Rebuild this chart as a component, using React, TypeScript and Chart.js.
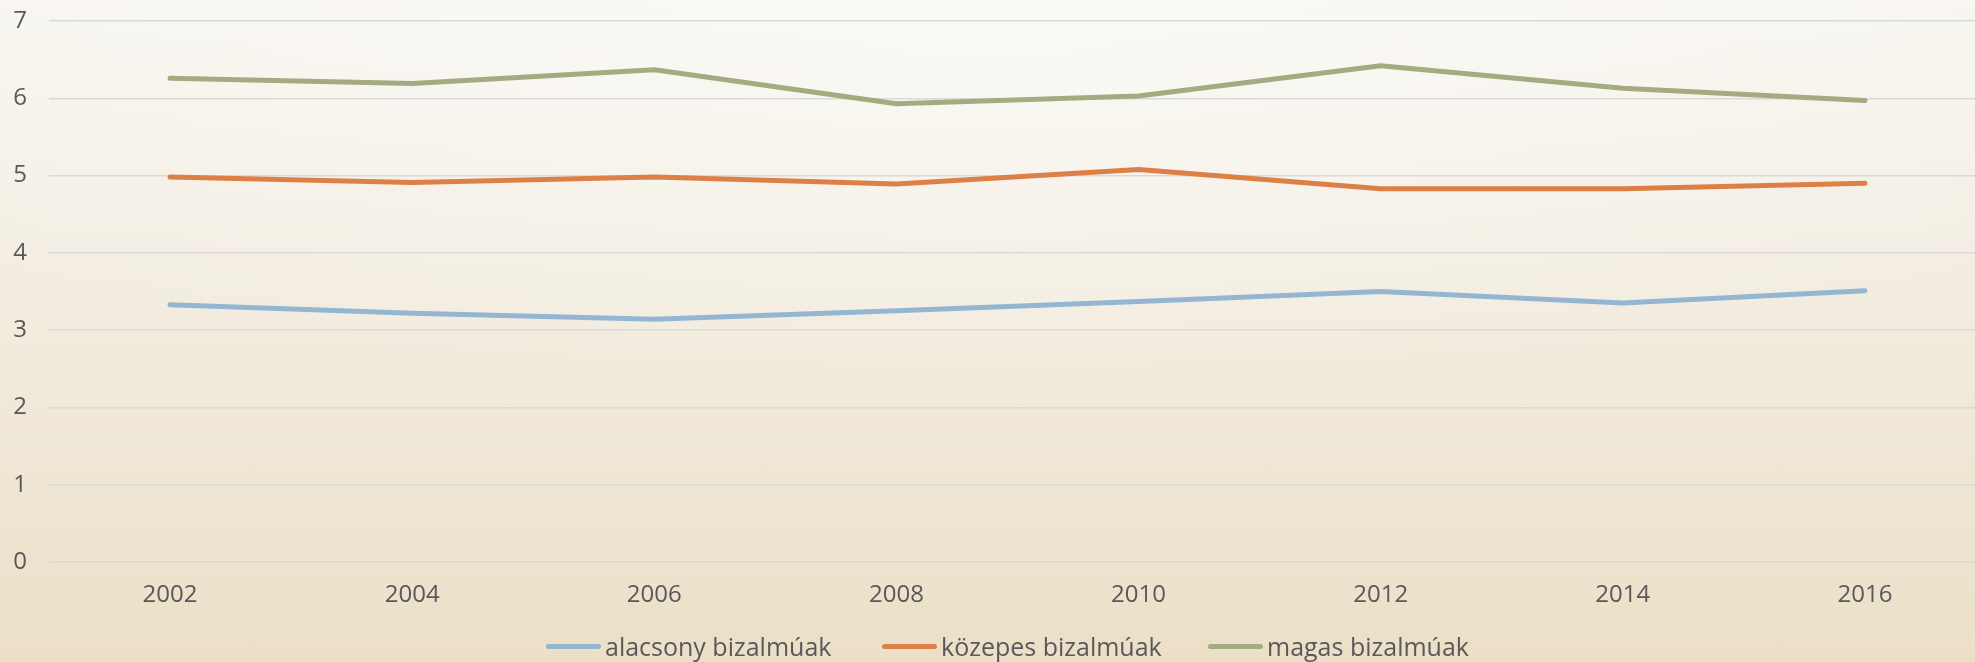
import React, { useEffect, useRef } from "react";
import { Chart, registerables } from "chart.js";

Chart.register(...registerables);

const years = ["2002", "2004", "2006", "2008", "2010", "2012", "2014", "2016"];
const alacsony = [3.33, 3.22, 3.14, 3.25, 3.37, 3.5, 3.35, 3.51];
const kozepes = [4.98, 4.91, 4.98, 4.89, 5.08, 4.83, 4.83, 4.9];
const magas = [6.26, 6.19, 6.37, 5.93, 6.03, 6.42, 6.13, 5.97];
const seriesNames = ["alacsony bizalmúak", "közepes bizalmúak", "magas bizalmúak"];
const seriesColors = ["#94B6D2", "#DD8047", "#A5AB81"];

const FONT = "'Open Sans', 'DejaVu Sans', sans-serif";
const TEXT = "#595959";

export default function App() {
  const ref = useRef<HTMLCanvasElement>(null);

  useEffect(() => {
    const values = [alacsony, kozepes, magas];
    const chart = new Chart(ref.current!, {
      type: "line",
      data: {
        labels: years,
        datasets: values.map((v, i) => ({
          label: seriesNames[i],
          data: v,
          borderColor: seriesColors[i],
          backgroundColor: seriesColors[i],
          borderWidth: 5,
          pointRadius: 0,
          pointHoverRadius: 0,
          borderCapStyle: "round" as const,
          borderJoinStyle: "round" as const,
          tension: 0,
        })),
      },
      options: {
        responsive: false,
        animation: false,
        layout: { padding: { top: 21, right: 4, bottom: 0, left: 0 } },
        plugins: { legend: { display: false }, tooltip: { enabled: false } },
        scales: {
          x: {
            offset: true,
            grid: { display: false },
            border: { display: false },
            ticks: { color: TEXT, font: { family: FONT, size: 24 }, padding: 11 },
            afterFit: (s: any) => {
              s.height = 100;
            },
          },
          y: {
            min: 0,
            max: 7,
            ticks: { stepSize: 1, color: TEXT, font: { family: FONT, size: 24 }, padding: 22 },
            grid: { color: "#d9d9d9", lineWidth: 1.5, drawTicks: false },
            border: { display: false },
            afterFit: (s: any) => {
              s.width = 49;
              s.paddingTop = 0;
              s.paddingBottom = 0;
            },
          },
        },
      },
    });
    return () => chart.destroy();
  }, []);

  const legendLefts = [546, 882, 1208];

  return (
    <div
      style={{
        position: "fixed",
        left: 0,
        top: 0,
        width: 1975,
        height: 662,
        overflow: "hidden",
        background:
          "radial-gradient(ellipse 70% 60% at 50% 0%, rgba(252,251,248,0.7), rgba(252,251,248,0) 100%), linear-gradient(to bottom, #f7f5ef 0%, #f2ebde 50%, #ebdfc7 100%)",
      }}
    >
      <canvas ref={ref} width={1990} height={662} style={{ position: "absolute", left: 0, top: 0 }} />
      {seriesNames.map((name, i) => (
        <div
          key={name}
          style={{
            position: "absolute",
            left: legendLefts[i],
            top: 630,
            height: 32,
            display: "flex",
            alignItems: "center",
            fontFamily: FONT,
            fontSize: 25,
            color: TEXT,
            whiteSpace: "nowrap",
          }}
        >
          <span
            style={{
              display: "inline-block",
              width: 55,
              height: 5,
              borderRadius: 3,
              background: seriesColors[i],
              marginRight: 4,
            }}
          />
          <span style={{ lineHeight: "32px" }}>{name}</span>
        </div>
      ))}
    </div>
  );
}
